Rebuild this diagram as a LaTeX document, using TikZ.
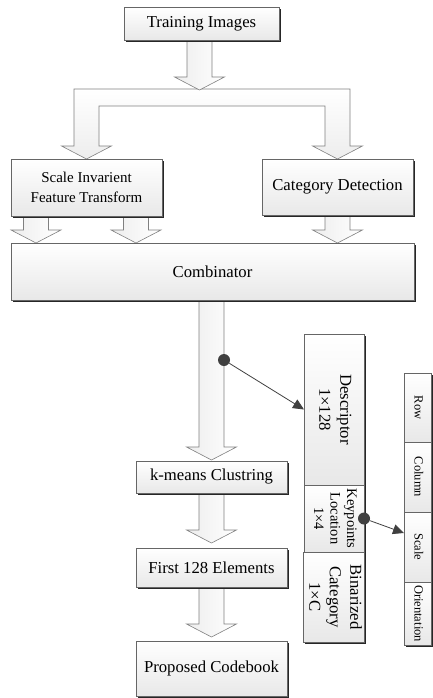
\documentclass[tikz,border=0pt]{standalone}
\usepackage{fontspec}
\setmainfont{Liberation Serif}
\usepackage{graphicx}
\usetikzlibrary{arrows.meta,shadows,calc}
\pgfdeclarelayer{background}
\pgfsetlayers{background,main}
\tikzset{
  box/.style={draw=black!60, line width=0.6pt, top color=white, bottom color=black!9,
    inner sep=0pt, outer sep=0pt, align=center, font=\fontsize{16.7}{20}\selectfont,
    drop shadow={shadow xshift=1.6pt, shadow yshift=-1.6pt, fill=black!85, opacity=1}},
  barrow/.style={draw=black!50, line width=0.6pt, left color=black!7, right color=white},
  barfill/.style={draw=black!50, line width=0.6pt, top color=white, bottom color=black!7},
  link/.style={draw=black!75, line width=0.8pt, -{Triangle[length=11pt,width=10pt]}},
  dot/.style={circle, fill=black!75, minimum size=12pt, inner sep=0pt}
}
\newcommand{\blockarrow}[3][0pt]{%
  \draw[barrow] let \p1=(#2), \p2=(#3) in
    (\x1-12.5pt,\y1) -- (\x1-12.5pt,\y2+13pt+#1) -- (\x1-25pt,\y2+13pt+#1) --
    (\x1,\y2+#1) -- (\x1+25pt,\y2+13pt+#1) -- (\x1+12.5pt,\y2+13pt+#1) --
    (\x1+12.5pt,\y1) -- cycle;}
\newcommand{\rtext}[1]{\rotatebox[origin=c]{-90}{\begin{tabular}{@{}c@{}}#1\end{tabular}}}
\begin{document}
\begin{tikzpicture}[x=1pt,y=-1pt]
\useasboundingbox (0,0) rectangle (432,698);

% main boxes
\node[box, minimum width=155pt, minimum height=33pt] (train) at (201.5,23.5) {Training Images};
\node[box, minimum width=151pt, minimum height=57pt, font=\fontsize{15}{20}\selectfont] (sift) at (86.5,187.5) {Scale Invarient\\Feature Transform};
\node[box, minimum width=151pt, minimum height=56pt] (cat) at (337.5,187) {Category Detection};
\node[box, minimum width=403pt, minimum height=57pt] (comb) at (212.5,271.5) {Combinator};
\node[box, minimum width=151pt, minimum height=32pt] (kmeans) at (211.5,477) {k-means Clustring};
\node[box, minimum width=151pt, minimum height=39pt] (first) at (211.5,567.5) {First 128 Elements};
\node[box, minimum width=151pt, minimum height=55pt] (code) at (211.5,668.5) {Proposed Codebook};

% feature vector column
\node[box, minimum width=60pt, minimum height=151pt, font=\fontsize{16.7}{21}\selectfont] (desc) at (334,409.5) {\rtext{Descriptor\\1×128}};
\node[box, minimum width=60pt, minimum height=67pt, font=\fontsize{14.5}{16.5}\selectfont] (keyp) at (334,518.5) {\rtext{Keypoints\\Location\\1×4}};
\node[box, minimum width=60pt, minimum height=90pt, font=\fontsize{16.7}{20.5}\selectfont] (bin) at (334,597) {\rtext{Binarized\\Category\\1×C}};

% keypoint column
\node[box, minimum width=27pt, minimum height=69pt, font=\fontsize{12.5}{14}\selectfont] (row) at (417.5,407.5) {\rtext{Row}};
\node[box, minimum width=27pt, minimum height=70pt, font=\fontsize{12.5}{14}\selectfont] (col) at (417.5,477) {\rtext{Column}};
\node[box, minimum width=27pt, minimum height=70pt, font=\fontsize{12.5}{14}\selectfont] (scale) at (417.5,547) {\rtext{Scale}};
\node[box, minimum width=27pt, minimum height=63pt, font=\fontsize{12.5}{14}\selectfont] (orient) at (417.5,613.5) {\rtext{Orientation}};

% block arrows
\begin{pgfonlayer}{background}
\coordinate (bar) at (200,89);
\draw[barfill] let \p1=(sift.north), \p2=(cat.north), \p3=(bar) in
  (\x1-12.5pt,\y3) -- (\x2+12.5pt,\y3) -- (\x2+12.5pt,\y2+13pt) -- (\x2+25pt,\y2+13pt) --
  (\x2,\y2) -- (\x2-25pt,\y2+13pt) -- (\x2-12.5pt,\y2+13pt) -- (\x2-12.5pt,\y3-17pt) --
  (\x1+12.5pt,\y3-17pt) -- (\x1+12.5pt,\y1+13pt) -- (\x1+25pt,\y1+13pt) -- (\x1,\y1) --
  (\x1-25pt,\y1+13pt) -- (\x1-12.5pt,\y1+13pt) -- cycle;
\blockarrow[-1pt]{[xshift=-2pt]train.south}{bar}
\blockarrow{[xshift=-50.5pt]sift.south}{comb.north}
\blockarrow{[xshift=49.5pt]sift.south}{comb.north}
\blockarrow{cat.south}{comb.north}
\blockarrow[1pt]{comb.south -| kmeans.north}{kmeans.north}
\blockarrow[5pt]{kmeans.south}{first.north}
\blockarrow[4pt]{first.south}{code.north}
\end{pgfonlayer}

% links
\node[dot] (d1) at (224,360) {};
\draw[link] (d1) -- (desc.west);
\node[dot] (d2) at (keyp.east) {};
\draw[link] (d2) -- ([yshift=14pt]scale.west);
\end{tikzpicture}
\end{document}
